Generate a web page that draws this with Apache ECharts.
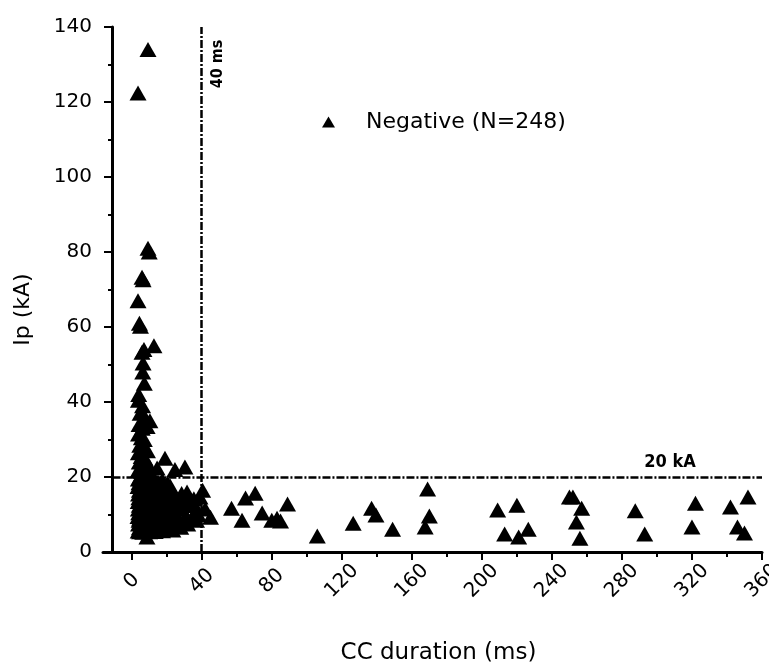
<!DOCTYPE html>
<html><head><meta charset="utf-8">
<script src="https://cdn.jsdelivr.net/npm/echarts@6/dist/echarts.min.js"></script>
<style>html,body{margin:0;padding:0;background:#fff}#c{width:769px;height:664px}</style>
</head><body><div id="c"></div>
<script>
const seriesName = 'Negative (N=248)';
const xAxisTitle = 'CC duration (ms)';
const yAxisTitle = 'Ip (kA)';
const xTickValues = [0, 40, 80, 120, 160, 200, 240, 280, 320, 360];
const xMinorTickValues = [20, 60, 100, 140, 180, 220, 260, 300, 340];
const thresholdDuration = 40;   // ms
const thresholdCurrent = 20;    // kA
const durationLabel = '40 ms';
const currentLabel = '20 kA';

// strokes with Ip above 20 kA (short CC durations)
const upperColumn = [
  [9.3,134],[3.6,122.4],[9.3,81],[10,80],[5.9,73.3],[6.5,72.6],[3.6,67],[4.4,61],[5,60.2],
  [12.7,55],[5.9,53.3],[7,54],[6.5,50.4],[6.3,48],[7.2,45],[4,42],[3.8,40.5],[6.2,39],
  [4.8,37],[7.5,36],[10.4,35],[4.2,34],[6,33],[8.8,33.5],[3.9,31.5],[5.5,30.5],[7.2,30],
  [4.6,28.5],[6.8,27.5],[9,27],[3.8,26.5],[5.4,25.5],[7.6,25],[19,25],[4.3,24],[6.1,23.5],
  [8.4,23],[10.5,22.5],[14.5,22.4],[24.7,22],[30.4,22.7],[3.9,22],[5.6,21.5],[7.4,21],
  [9.5,20.8],[11.5,20.3],[4.8,20.2]
];

// dense group below 20 kA with CC duration under ~45 ms
const denseCluster = [
  [3.8,19.5],[5,19.5],[6.5,19.4],[8.2,19.6],[10,19.3],[13,19.5],[17.5,19.2],
  [4.2,18.5],[5.8,18.6],[7.4,18.4],[9.1,18.5],[11.5,18.3],[15,18.6],[20.5,18.4],
  [3.6,17.5],[4.9,17.6],[6.2,17.4],[8,17.5],[9.8,17.7],[12.4,17.3],[16.2,17.5],[22,17.6],
  [4.4,16.5],[5.5,16.6],[7.1,16.4],[8.8,16.5],[11,16.7],[14,16.3],[18.3,16.5],[31.6,16],
  [3.9,15.5],[5.2,15.6],[6.8,15.4],[8.5,15.5],[10.6,15.7],[13.2,15.3],[17,15.5],[24,15.4],[28.5,15.6],
  [4.1,14.5],[5.9,14.6],[7.5,14.4],[9.4,14.5],[12,14.7],[15.6,14.3],[20,14.5],[39,14.7],[35.5,14.2],
  [3.7,13.5],[5,13.6],[6.4,13.4],[8.1,13.5],[10.2,13.7],[13.7,13.3],[18.8,13.5],[26,13.6],
  [4.3,12.5],[5.6,12.6],[7.2,12.4],[9,12.5],[11.3,12.7],[14.8,12.3],[19,12.5],[22.5,12.6],[33,12.4],
  [3.8,11.5],[5.3,11.6],[6.9,11.4],[8.6,11.5],[10.8,11.7],[13,11.3],[16.5,11.5],[21,11.6],[29,11.4],
  [4,10.5],[5.7,10.6],[7.3,10.4],[9.2,10.5],[11.8,10.7],[15.2,10.3],[18,10.5],[24.5,10.6],[36,10.4],
  [3.6,9.5],[5.1,9.6],[6.6,9.4],[8.3,9.5],[10.4,9.7],[12.7,9.3],[17.2,9.5],[23,9.6],[30.5,9.3],[35,9.3],[45,9.3],
  [4.2,8.5],[5.8,8.6],[7.7,8.4],[9.6,8.5],[12.2,8.7],[14.5,8.3],[19.5,8.5],[27,8.6],[37,8.5],
  [3.9,7.5],[5.4,7.6],[7,7.4],[8.9,7.5],[11.1,7.7],[13.8,7.3],[16.8,7.5],[21.5,7.6],[25.5,7.4],[32,7.5],
  [4.4,6.5],[6,6.6],[7.8,6.4],[9.9,6.5],[12.6,6.7],[15.9,6.3],[20.2,6.5],[28,6.6],
  [3.7,5.6],[5.2,5.7],[6.7,5.5],[8.4,5.6],[10.5,5.8],[13.4,5.5],[17.6,5.7],[23.5,5.9],
  [4.5,5.4],[6.3,5.3],[8,5.5],[10.2,5.4],[12.9,5.6],[15.5,5.8],
  [8.7,4],
  [5,12],[6,14],[7,10],[8,16],[9,8],[4.6,9],[5.5,18],[6.6,7],[7.8,12.9],[9.7,15],[10.9,6],
  [12.1,10.1],[13.3,17],[14.2,12],[16.1,8.2],[17.9,14],[19.8,10.8],[22.4,16.8],[26.8,12.2],[31,14.2],[34.2,9],
  [40.5,16.5],[38,10],[42,11.5],[36,12.5]
];

// strokes with longer CC durations
const sparseStrokes = [
  [57,11.7],[65,14.4],[70.5,15.7],[63,8.5],[74.5,10.4],[80,8.5],[83,9],[85,8.3],[89,12.8],
  [106,4.3],[126.5,7.7],[137,11.7],[139.5,9.9],[149,6.1],[169,16.8],[170,9.6],[167.6,6.7],
  [209,11.2],[220,12.5],[213,4.8],[221,4],[226.5,6.1],[250,14.7],[252,14.7],[257,11.7],
  [254,8],[256,3.7],[287.6,11],[293,4.8],[322,13],[320,6.7],[342,12],[352,14.7],[346,6.7],[350,5.1]
];

const allStrokes = upperColumn.concat(denseCluster, sparseStrokes);

const X_MIN = -16.4, X_MAX = 360, Y_MIN = 0, Y_MAX = 140;
const FONT = "'DejaVu Sans', 'Liberation Sans', sans-serif";
const NARROW = "'Liberation Sans Narrow', 'DejaVu Sans Condensed', 'Liberation Sans', sans-serif";
const dashDot = [8, 2, 2, 2];

const chart = echarts.init(document.getElementById('c'), null, {renderer: 'canvas'});
chart.setOption({
  animation: false,
  backgroundColor: '#fff',
  grid: {left: 103, right: 7, top: 27, bottom: 112, containLabel: false, outerBoundsMode: 'none'},
  legend: {
    data: [seriesName],
    left: 322, top: 111, padding: 0,
    itemWidth: 13, itemHeight: 11,
    icon: 'triangle',
    textStyle: {fontFamily: FONT, fontSize: 22, color: '#000', padding: [0, 0, 0, 26]},
    itemStyle: {color: '#000'}
  },
  xAxis: [{
    type: 'value', min: X_MIN, max: X_MAX, position: 'bottom',
    name: xAxisTitle, nameLocation: 'middle', nameGap: 90,
    nameTextStyle: {fontFamily: FONT, fontSize: 23, color: '#000', padding: [0, 0, 0, 12]},
    axisLine: {show: true, onZero: false, lineStyle: {color: '#000', width: 3}},
    axisTick: {show: true, customValues: xTickValues, length: 8, lineStyle: {color: '#000', width: 2}},
    axisLabel: {show: true, customValues: xTickValues, rotate: 45, margin: 29, align: 'center', verticalAlign: 'middle',
      fontFamily: FONT, fontSize: 20, color: '#000', hideOverlap: false},
    splitLine: {show: false}
  }, {
    type: 'value', min: X_MIN, max: X_MAX, position: 'bottom', offset: 0,
    axisLine: {show: false, onZero: false},
    axisTick: {show: true, customValues: xMinorTickValues, length: 5, lineStyle: {color: '#000', width: 2}},
    axisLabel: {show: false},
    splitLine: {show: false}
  }],
  yAxis: {
    type: 'value', min: Y_MIN, max: Y_MAX, interval: 20, offset: -9,
    name: yAxisTitle, nameLocation: 'middle', nameGap: 78,
    nameTextStyle: {fontFamily: FONT, fontSize: 22, color: '#000', padding: [0, 40, 0, 0]},
    axisLine: {show: true, onZero: false, lineStyle: {color: '#000', width: 3}},
    axisTick: {show: true, length: 8, lineStyle: {color: '#000', width: 2}},
    minorTick: {show: true, splitNumber: 2, length: 4, lineStyle: {color: '#000', width: 2}},
    axisLabel: {margin: 20, fontFamily: FONT, fontSize: 20, color: '#000'},
    splitLine: {show: false}
  },
  series: [{
    name: seriesName,
    type: 'scatter',
    xAxisIndex: 0,
    symbol: 'triangle',
    symbolSize: [17, 15],
    itemStyle: {color: '#000', opacity: 1},
    data: allStrokes,
    markLine: {
      silent: true, symbol: 'none',
      label: {show: false},
      lineStyle: {color: '#000', width: 2.5, type: dashDot},
      data: [
        [{coord: [thresholdDuration, Y_MIN]}, {coord: [thresholdDuration, Y_MAX]}],
        [{coord: [-11, thresholdCurrent]}, {coord: [X_MAX, thresholdCurrent]}]
      ]
    }
  }]
});

const pTop = chart.convertToPixel({xAxisIndex: 0, yAxisIndex: 0}, [thresholdDuration, Y_MAX]);
const pRight = chart.convertToPixel({xAxisIndex: 0, yAxisIndex: 0}, [X_MAX, thresholdCurrent]);
chart.setOption({
  graphic: [{
    type: 'text', x: pTop[0] + 16, y: pTop[1] + 37, rotation: Math.PI / 2,
    style: {text: durationLabel, fontFamily: NARROW, fontWeight: 'bold', fontSize: 16, fill: '#000', align: 'center', verticalAlign: 'middle'}
  }, {
    type: 'text', x: pRight[0] - 92, y: pRight[1] - 15,
    style: {text: currentLabel, fontFamily: NARROW, fontWeight: 'bold', fontSize: 18, fill: '#000', align: 'center', verticalAlign: 'middle'}
  }]
});
</script></body></html>
